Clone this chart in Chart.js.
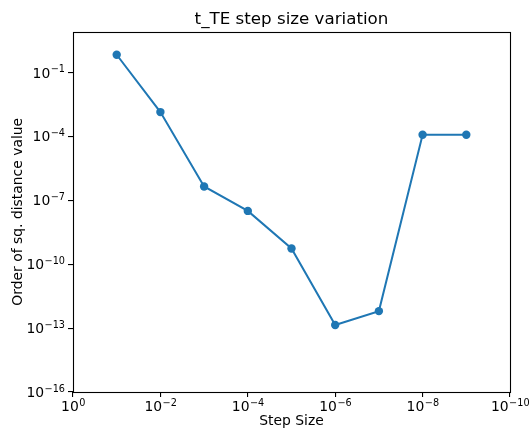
<!DOCTYPE html>
<html>
<head>
<meta charset="utf-8">
<script src="https://cdn.jsdelivr.net/npm/chart.js@4"></script>
<style>
  html, body { margin: 0; padding: 0; background: #fff; }
  #wrap { width: 530px; height: 429px; }
</style>
</head>
<body>
<div id="wrap"><canvas id="stepChart" width="530" height="429"></canvas></div>
<script>
const stepSizes = [1e-1, 1e-2, 1e-3, 1e-4, 1e-5, 1e-6, 1e-7, 1e-8, 1e-9];
const distances = [6.9e-1, 1.4e-3, 4.5e-7, 3.2e-8, 5.5e-10, 1.4e-13, 6.3e-13, 1.2e-4, 1.2e-4];
const xTicks = [1, 1e-2, 1e-4, 1e-6, 1e-8, 1e-10];
const yTicks = [1e-16, 1e-13, 1e-10, 1e-7, 1e-4, 1e-1];

const fontFamily = '"DejaVu Sans", sans-serif';
const baseSize = 13.9;
const expSize = 9.7;

function exponentOf(v) {
  const e = Math.round(Math.log10(v));
  return e < 0 ? '\u2212' + (-e) : String(e);
}

// full box around the axes
const frame = {
  id: 'frame',
  afterDraw(chart) {
    const {ctx, chartArea} = chart;
    ctx.save();
    ctx.strokeStyle = '#000';
    ctx.lineWidth = 1.1;
    ctx.strokeRect(Math.round(chartArea.left) + 0.5, Math.round(chartArea.top) + 0.5,
      Math.round(chartArea.right - chartArea.left), Math.round(chartArea.bottom - chartArea.top));
    ctx.restore();
  }
};

// tick labels as 10 with a raised exponent
function measureLabel(ctx, v) {
  ctx.font = baseSize + 'px ' + fontFamily;
  const wBase = ctx.measureText('10').width;
  ctx.font = expSize + 'px ' + fontFamily;
  const wExp = ctx.measureText(exponentOf(v)).width;
  return {wBase, wExp, total: wBase + wExp};
}
function drawLabel(ctx, v, xLeft, baseline) {
  const m = measureLabel(ctx, v);
  ctx.font = baseSize + 'px ' + fontFamily;
  ctx.fillText('10', xLeft, baseline);
  ctx.font = expSize + 'px ' + fontFamily;
  ctx.fillText(exponentOf(v), xLeft + m.wBase + 0.5, baseline - 5.5);
}
const powerLabels = {
  id: 'powerLabels',
  afterDraw(chart) {
    const {ctx, chartArea} = chart;
    const xs = chart.scales.x, ys = chart.scales.y;
    ctx.save();
    ctx.fillStyle = '#000';
    ctx.textAlign = 'left';
    ctx.textBaseline = 'alphabetic';
    xTicks.forEach(v => {
      const px = xs.getPixelForValue(v);
      const m = measureLabel(ctx, v);
      drawLabel(ctx, v, px - m.total / 2, chartArea.bottom + 19);
    });
    yTicks.forEach(v => {
      const py = ys.getPixelForValue(v);
      const m = measureLabel(ctx, v);
      drawLabel(ctx, v, chartArea.left - 8.5 - m.total, py + 5);
    });
    ctx.restore();
  }
};

const points = stepSizes.map((s, i) => ({x: s, y: distances[i]}));

new Chart(document.getElementById('stepChart').getContext('2d'), {
  type: 'line',
  data: {
    datasets: [{
      data: points,
      borderColor: '#1f77b4',
      backgroundColor: '#1f77b4',
      borderWidth: 2,
      pointRadius: 4.2,
      pointHoverRadius: 4.2,
      pointBorderWidth: 0,
      tension: 0,
      fill: false
    }]
  },
  options: {
    responsive: false,
    animation: false,
    layout: { padding: { left: 0, right: 20, top: 0, bottom: 0 } },
    plugins: {
      legend: { display: false },
      tooltip: { enabled: false },
      title: {
        display: true,
        text: 't_TE step size variation',
        fullSize: false,
        color: '#000',
        font: { family: fontFamily, size: 16.7, weight: 'normal' },
        padding: { top: 9.5, bottom: 2 }
      }
    },
    scales: {
      x: {
        type: 'logarithmic',
        reverse: true,
        min: 1e-10,
        max: 1,
        afterBuildTicks: s => { s.ticks = xTicks.map(v => ({value: v})); },
        afterFit: s => { s.height = 37; },
        grid: { drawOnChartArea: false, drawTicks: true, tickLength: 5, color: '#000', lineWidth: 1.1 },
        border: { display: false },
        ticks: { display: false, autoSkip: false },
        title: {
          display: true,
          text: 'Step Size',
          color: '#000',
          font: { family: fontFamily, size: 13.9 },
          padding: { top: 0, bottom: -1 }
        }
      },
      y: {
        type: 'logarithmic',
        min: 1e-16,
        max: 8.5,
        afterBuildTicks: s => { s.ticks = yTicks.map(v => ({value: v})); },
        afterFit: s => { s.width = 73; },
        grid: { drawOnChartArea: false, drawTicks: true, tickLength: 5, color: '#000', lineWidth: 1.1 },
        border: { display: false },
        ticks: { display: false, autoSkip: false },
        title: {
          display: true,
          text: 'Order of sq. distance value',
          color: '#000',
          font: { family: fontFamily, size: 13.9 },
          padding: { top: 10, bottom: 0 }
        }
      }
    }
  },
  plugins: [frame, powerLabels]
});
</script>
</body>
</html>
